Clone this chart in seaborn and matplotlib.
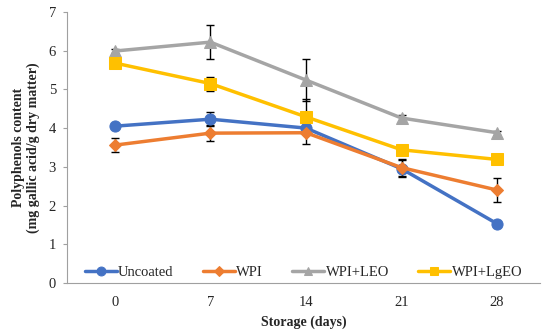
import matplotlib
matplotlib.use("Agg")
import matplotlib.pyplot as plt
import seaborn as sns
import pandas as pd
import numpy as np

days = ["0", "7", "14", "21", "28"]
groups = ["Uncoated", "WPI", "WPI+LEO", "WPI+LgEO"]
uncoated = [4.05, 4.23, 4.00, 2.95, 1.53]
wpi = [3.56, 3.87, 3.88, 2.98, 2.40]
wpi_leo = [5.99, 6.22, 5.24, 4.26, 3.88]
wpi_lgeo = [5.68, 5.15, 4.29, 3.44, 3.19]
err_uncoated = [0.05, 0.18, 0.12, 0.22, 0.05]
err_wpi = [0.18, 0.21, 0.28, 0.22, 0.30]
err_leo = [0.05, 0.43, 0.55, 0.09, 0.05]
err_lgeo = [0.05, 0.18, 0.45, 0.05, 0.05]

colors = ["#4472C4", "#ED7D31", "#A5A5A5", "#FFC000"]
markers = ["o", "D", "^", "s"]
sizes = [8, 6, 8, 8]

sns.set_style("white")
plt.rcParams["font.family"] = ["Liberation Serif", "DejaVu Serif"]

df = pd.DataFrame({
    "day": days * 4,
    "pos": list(range(len(days))) * 4,
    "value": uncoated + wpi + wpi_leo + wpi_lgeo,
    "err": err_uncoated + err_wpi + err_leo + err_lgeo,
    "group": np.repeat(groups, len(days)),
})

fig, ax = plt.subplots(figsize=(5.5, 3.31), dpi=100)
fig.subplots_adjust(left=0.122, right=0.982, bottom=0.145, top=0.964)

for g, c, m, s in zip(groups, colors, markers, sizes):
    d = df[df["group"] == g]
    ax.errorbar(d["pos"], d["value"], yerr=d["err"], fmt="none",
                ecolor="black", elinewidth=1, capsize=3, capthick=1, zorder=1)
    sns.lineplot(data=d, x="pos", y="value", color=c, marker=m,
                 markersize=s, markeredgecolor=c, linewidth=2.5,
                 label=g, ax=ax, zorder=3)

ax.set_xlim(-0.5, 4.45)
ax.set_ylim(0, 7)
ax.set_xticks(range(len(days)))
ax.set_xticklabels(days)
ax.set_yticks(range(0, 8))
ax.tick_params(axis="both", labelsize=10.5, length=0, pad=9)
ax.tick_params(axis="y", length=3, left=True, pad=5, color="#A0A0A0")

ax.set_xlabel("Storage (days)", fontsize=10, fontweight="bold", labelpad=5)
ax.set_ylabel("Polyphenols content\n(mg gallic acid/g dry matter)",
              fontsize=10, fontweight="bold", labelpad=6)

for side in ["top", "right"]:
    ax.spines[side].set_visible(False)
ax.spines["bottom"].set_color("#A0A0A0")
ax.spines["left"].set_color("#A0A0A0")

ax.legend(loc="lower center", ncol=4, frameon=False, fontsize=10.5,
          bbox_to_anchor=(0.5, -0.035), handlelength=2.2, handletextpad=0.1,
          columnspacing=2.0, markerscale=0.8)

fig.savefig("out.png", dpi=100)
